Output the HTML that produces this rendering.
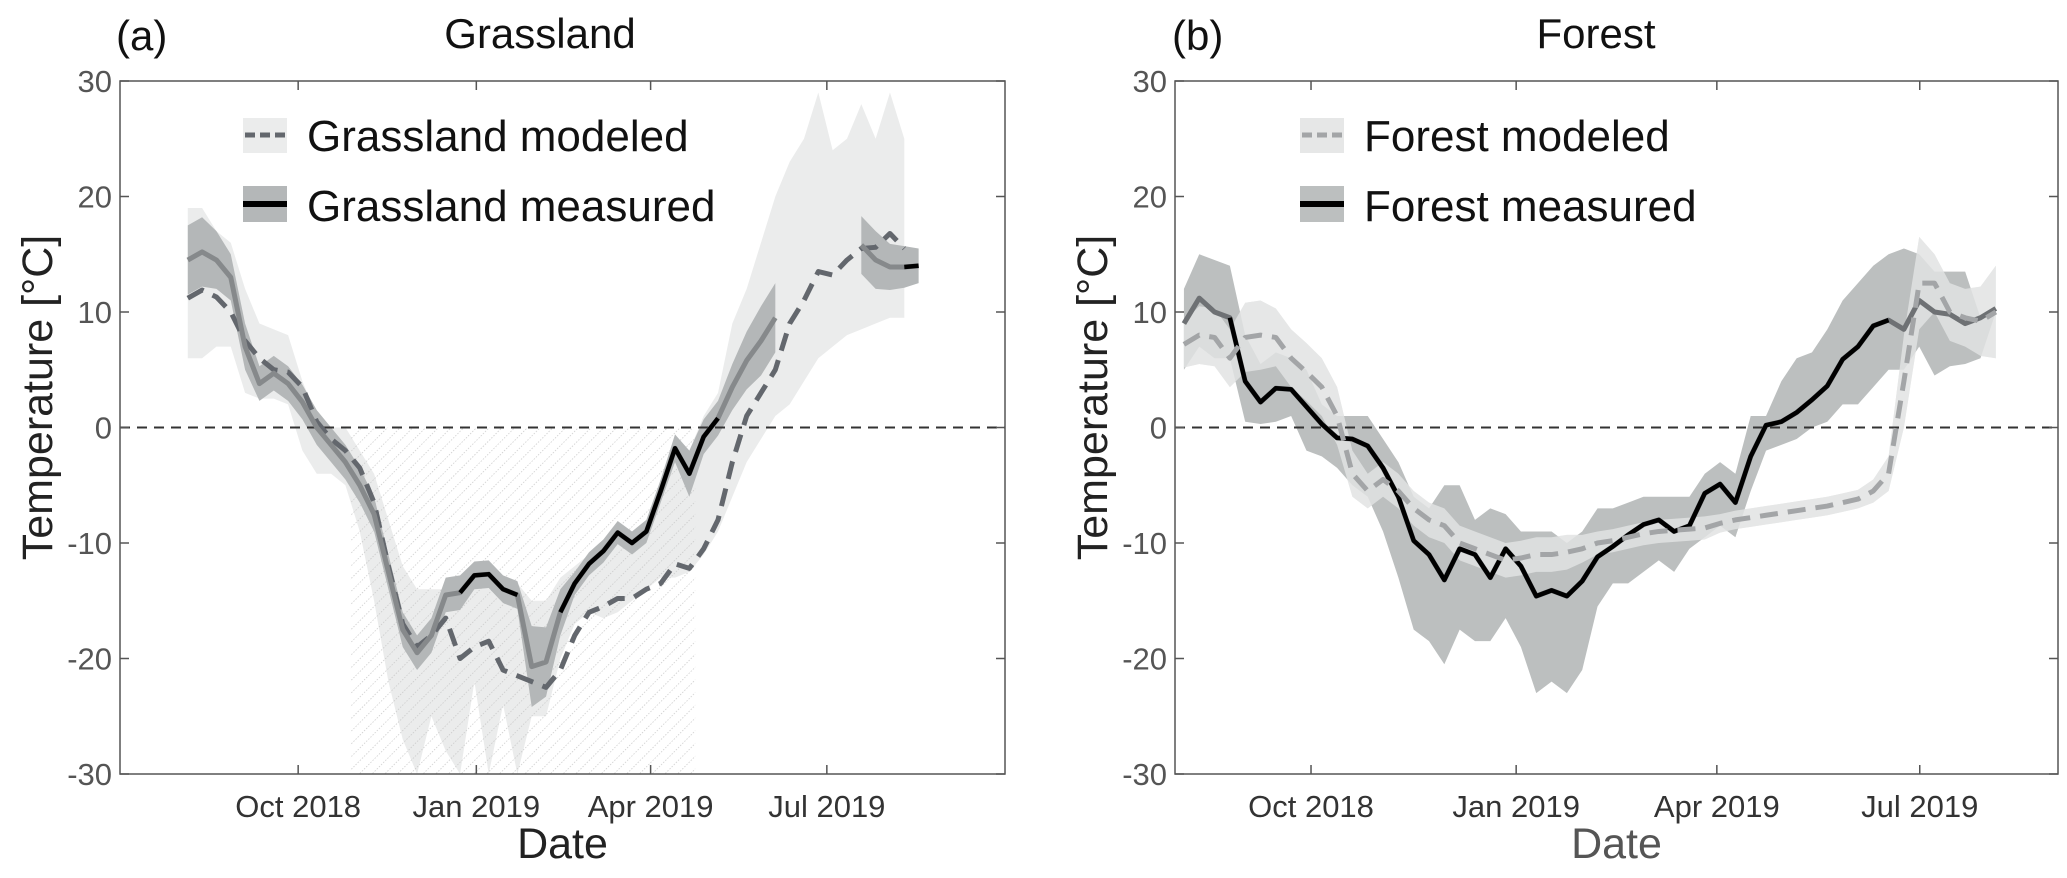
<!DOCTYPE html>
<html><head><meta charset="utf-8">
<style>
html,body{margin:0;padding:0;background:#fff;}
svg{display:block;font-family:"Liberation Sans",sans-serif;}
</style></head>
<body>
<svg id="fig" width="2067" height="878" viewBox="0 0 2067 878">
<defs>
<pattern id="hatch" patternUnits="userSpaceOnUse" width="9" height="9" patternTransform="rotate(45)">
<line x1="0" y1="0" x2="0" y2="9" stroke="#c4c4c4" stroke-width="1.3" stroke-dasharray="1.5,1.5"/>
</pattern>
</defs>
</svg>
<script>
// ---- shared data ----
const startDate = "2018-08-05"; // series start
const yTicks = [30,20,10,0,-10,-20,-30];
const yTickLabels = ["30","20","10","0","-10","-20","-30"];
const xTickDates = ["2018-10-01","2019-01-01","2019-04-01","2019-07-01"];
const xTickLabels = ["Oct 2018","Jan 2019","Apr 2019","Jul 2019"];

// ---- Grassland ----
const grassStepDays = 7.4;
const grassMeasured = [14.5,15.2,14.5,13,7,3.8,4.7,3.8,2.2,0,-1.5,-3,-5,-7.5,-12.5,-17.5,-19.5,-18,-14.5,-14.3,-12.8,-12.7,-14,-14.5,-20.7,-20.3,-16,-13.5,-11.8,-10.7,-9.1,-10,-9,-5.5,-1.8,-4,-0.8,0.8,3.5,5.8,7.5,9.5,null,null,null,null,null,15.8,14.5,13.9,13.9,14];
const grassMeasuredBlack = [0,0,0,0,0,0,0,0,0,0,0,0,0,0,0,0,0,0,0,1,1,1,1,1,0,0,1,1,1,1,1,1,1,1,1,1,1,1,0,0,0,0,0,0,0,0,0,0,0,0,1,1];
const grassMeasuredSpread = [3,3,2.5,2,2,1.5,1.5,1.5,1.5,1.5,1.5,1.5,1.5,1.5,1.5,1.5,1.5,1.5,1.5,1.5,1.2,1.2,1.2,1.2,3.5,3,2,1,1,1,1,1,1,1,1.2,2,1.5,1.5,2,2.5,3,3,0,0,0,0,0,2.5,2.5,2,1.8,1.5];
const grassModeled = [11.2,11.9,11.3,10,7.5,6,5,4.8,3.5,0.5,-1,-2,-3.5,-6.5,-12,-17,-19,-18,-16.5,-20,-19,-18.5,-21,-21.5,-22,-22.5,-21,-18,-16,-15.5,-14.8,-14.8,-14,-13.5,-11.8,-12.2,-10.5,-8,-3,1,3,5,9,11,13.5,13.2,14.5,15.5,15.6,16.8,15.5];
const grassModeledHi = [19,19,17,16,12,9,8.5,8,4,1,0,0,-2,-4,-8,-12,-14,-14,-14,-14,-13,-13,-13.5,-13.5,-15,-15,-13,-12,-11,-10,-9,-9,-8,-5,-1,-2,1,3,9,12,16,20,23,25,29,24,25,28,25,29,25,24];
const grassModeledLo = [6,6,7,7,3,2.5,2.5,2,-2,-4,-4,-5,-9,-15,-22,-27,-30,-25,-28,-30,-22,-30,-24,-30,-25,-25,-20,-17,-16,-16.5,-16,-15,-14,-13,-13,-12.5,-11,-9,-6,-3,-1,1,2,4,6,7,8,8.5,9,9.5,9.5,9.5];
const grassFrozenStart = "2018-10-28";
const grassFrozenEnd = "2019-04-24";

// ---- Forest ----
const forestStepDays = 6.87;
const forestMeasured = [9,11.2,10,9.5,4,2.2,3.4,3.3,1.8,0.3,-0.9,-1,-1.6,-3.5,-6,-9.8,-11,-13.2,-10.5,-11,-13,-10.5,-12,-14.6,-14.1,-14.6,-13.3,-11.2,-10.3,-9.3,-8.4,-8,-9,-8.5,-5.7,-4.9,-6.5,-2.5,0.2,0.5,1.3,2.4,3.6,5.9,7,8.8,9.3,8.5,11,10,9.8,9,9.5,10.3];
const forestMeasuredBlack = [1,0,0,1,1,1,1,1,1,1,1,1,1,1,1,1,1,1,1,1,1,1,1,1,1,1,1,1,1,1,1,1,1,1,1,1,1,1,1,1,1,1,1,1,1,1,1,0,0,0,0,0,0,0];
const forestMeasuredHi = [12,15,14.5,14,8,5.5,6.5,6,5,2,1,1,1,-1,-3,-6,-7,-5,-5,-8,-7,-7.5,-9,-9,-9,-10,-9,-7,-7,-6.5,-6,-6,-6,-6,-4,-3,-4,1,1,4,6,6.5,8.5,11,12.5,14,15,15.5,15,13.5,13.5,13.5,9.5,10];
const forestMeasuredLo = [5,7,6,6,0.5,0.3,0.5,1,-2,-2.5,-3.5,-5,-6,-9,-13,-17.5,-18.5,-20.5,-17.5,-18.5,-18.5,-16.5,-19,-23,-22,-23,-21,-15.5,-13.5,-13.5,-12.5,-11.5,-12.5,-10.5,-9.5,-8.5,-9.5,-5.5,-2,-1.5,-1,0,0.5,2,2,3.5,5,5,7,4.5,5.3,5.5,6,10];
const forestModeled = [7.2,8,7.8,6,7.8,8,7.8,6,4.8,3.5,1,-4,-5.5,-4.5,-5.5,-7,-8,-8.5,-10,-10.5,-11,-11.5,-11.3,-11,-11,-10.8,-10.5,-10,-9.8,-9.5,-9.2,-9,-8.9,-8.8,-8.7,-8.3,-8,-7.8,-7.6,-7.4,-7.2,-7,-6.8,-6.5,-6.2,-5.5,-4,4,12.5,12.5,10,9.5,9.2,10];
const forestModeledSpread = [2,2.5,2.5,2.5,3,3,2.5,2.5,2.5,2.5,2.5,2,1.5,1.5,1.5,1.5,1.5,1.5,1.5,1.5,1.5,1.5,1.5,1.5,1.5,1.5,1.2,1,1,1,1,1,1,1,1,0.8,0.8,0.8,0.8,0.8,0.8,0.8,0.8,0.8,0.8,1,1.5,4,4,2.5,2.5,2.5,3,4];

const NS = "http://www.w3.org/2000/svg";
const svg = document.getElementById("fig");
function mk(tag, attrs, parent){ const e=document.createElementNS(NS,tag); for(const k in attrs) e.setAttribute(k,attrs[k]); (parent||svg).appendChild(e); return e; }
function dayNum(s){ return Date.parse(s+"T00:00:00Z")/86400000; }

const yTop=81, yBot=774;
function yS(v){ return yTop + (30 - v)*(yBot-yTop)/60; }

function drawPanel(cfg){
  const g = mk("g",{});
  
  
  const d0=dayNum(cfg.domain[0]), d1=dayNum(cfg.domain[1]);
  const xS = d => cfg.left + (d-d0)*(cfg.right-cfg.left)/(d1-d0);
  const weekDate = i => dayNum(startDate) + cfg.step*i;
  function bandPaths(lo, hi, n){
    const paths=[]; let top=[], bot=[];
    const flush=()=>{ if(top.length>1) paths.push("M"+top.map(p=>p.join(",")).join("L")+"L"+bot.reverse().map(p=>p.join(",")).join("L")+"Z"); top=[]; bot=[]; };
    for(let i=0;i<n;i++){
      if(lo[i]==null||hi[i]==null){ flush(); continue; }
      top.push([xS(weekDate(i)), yS(Math.min(30,hi[i]))]);
      bot.push([xS(weekDate(i)), yS(Math.max(-30,lo[i]))]);
    }
    flush();
    return paths.join(" ");
  }
  function segs(vals, flags){
    let out=[], cur=[];
    for(let i=0;i<vals.length;i++){
      const ok = vals[i]!=null && (!flags || flags[i]);
      if(ok){ cur.push([xS(weekDate(i)), yS(vals[i])]); }
      else { if(cur.length>1) out.push(cur); cur=[]; }
    }
    if(cur.length>1) out.push(cur);
    return out;
  }
  function polyl(pts, attrs){ return mk("polyline",Object.assign({points:pts.map(q=>q.join(",")).join(" "),fill:"none","stroke-linejoin":"round"},attrs),g); }

  const mb = mk("path",{d:bandPaths(cfg.modLo,cfg.modHi,cfg.modeled.length),fill:cfg.modBandColor},g);
  
  
  if(cfg.hatch){
    const hx0=xS(dayNum(cfg.hatch[0])), hx1=xS(dayNum(cfg.hatch[1]));
    const h=mk("rect",{x:hx0,y:yS(0),width:hx1-hx0,height:yS(-30)-yS(0),fill:"url(#hatch)"},g);
    
    
  }
  const meb = mk("path",{d:bandPaths(cfg.measLo,cfg.measHi,cfg.measured.length),fill:cfg.measBandColor},g);
  
  
  if(cfg.modelOnTop){
    const mb2 = mk("path",{d:bandPaths(cfg.modLo,cfg.modHi,cfg.modeled.length),fill:cfg.modBandColor,opacity:0.75},g);
    
    
  }
  const z=mk("line",{x1:cfg.left,x2:cfg.right,y1:yS(0),y2:yS(0),stroke:"#333","stroke-width":2,"stroke-dasharray":"10,7"},g);
  
  
  const drawMeasured=()=>{
    segs(cfg.measured).forEach(s=>{ const p=polyl(s,{stroke:cfg.measGray,"stroke-width":5});   });
    segs(cfg.measured,cfg.measBlack).forEach(s=>{ const p=polyl(s,{stroke:"#000","stroke-width":4.5});   });
  };
  const drawModeled=()=>{
    segs(cfg.modeled).forEach(s=>{ const p=polyl(s,{stroke:cfg.modColor,"stroke-width":5,"stroke-dasharray":"18,10"});   });
  };
  if(cfg.modelOnTop){ drawMeasured(); drawModeled(); } else { drawModeled(); drawMeasured(); }

  const box=mk("rect",{x:cfg.left,y:yTop,width:cfg.right-cfg.left,height:yBot-yTop,fill:"none",stroke:"#555","stroke-width":1.5},g);
  
  
  yTicks.forEach((v,i)=>{
    const y=yS(v);
    mk("line",{x1:cfg.left,x2:cfg.left+9,y1:y,y2:y,stroke:"#555","stroke-width":1.5},g);
    mk("line",{x1:cfg.right,x2:cfg.right-9,y1:y,y2:y,stroke:"#555","stroke-width":1.5},g);
    const t=mk("text",{x:cfg.left-8,y:y+11,"text-anchor":"end","font-size":31,fill:"#555"},g);
    t.textContent=yTickLabels[i];
    
    
  });
  xTickDates.forEach((d,i)=>{
    const x=xS(dayNum(d));
    mk("line",{x1:x,x2:x,y1:yBot,y2:yBot-9,stroke:"#555","stroke-width":1.5},g);
    mk("line",{x1:x,x2:x,y1:yTop,y2:yTop+9,stroke:"#555","stroke-width":1.5},g);
    const t=mk("text",{x:x,y:817,"text-anchor":"middle","font-size":31,fill:"#333"},g);
    t.textContent=xTickLabels[i];
    
    
  });
  const xl=mk("text",{x:(cfg.left+cfg.right)/2,y:858,"text-anchor":"middle","font-size":43,fill:cfg.dateColor},g);
  xl.textContent="Date";
  
  
  const yl=mk("text",{x:0,y:0,"text-anchor":"middle","font-size":43,fill:"#222",transform:`translate(${cfg.left-68},${yS(0)-30}) rotate(-90)`},g);
  yl.textContent="Temperature [°C]";
  
  
  const tt=mk("text",{x:cfg.titleX,y:48,"text-anchor":"middle","font-size":42,fill:"#111"},g);
  tt.textContent=cfg.title;
  
  
  const lb=mk("text",{x:cfg.labelX,y:50,"font-size":42,fill:"#111"},g);
  lb.textContent=cfg.label;
  
  

  const L=cfg.legendX;
  const lg=mk("g",{},g);
  
  
  const e1=mk("g",{},lg);
  
  
  mk("rect",{x:L,y:118,width:44,height:35,fill:cfg.modBandColor},e1);
  mk("line",{x1:L+2,x2:L+42,y1:135,y2:135,stroke:cfg.modColor,"stroke-width":5,"stroke-dasharray":"10,5"},e1);
  const t1=mk("text",{x:L+64,y:151,"font-size":44,fill:"#111"},e1); t1.textContent=cfg.title+" modeled";
  const e2=mk("g",{},lg);
  
  
  mk("rect",{x:L,y:186,width:44,height:36,fill:cfg.measBandColor},e2);
  mk("line",{x1:L,x2:L+44,y1:204,y2:204,stroke:"#000","stroke-width":6},e2);
  const t2=mk("text",{x:L+64,y:221,"font-size":44,fill:"#111"},e2); t2.textContent=cfg.title+" measured";
}

drawPanel({name:"grassland",title:"Grassland",label:"(a)",left:120,right:1005,domain:["2018-07-01","2019-10-01"],step:grassStepDays,
  measured:grassMeasured,measBlack:grassMeasuredBlack,
  measLo:grassMeasured.map((v,i)=>v==null?null:v-grassMeasuredSpread[i]),
  measHi:grassMeasured.map((v,i)=>v==null?null:v+grassMeasuredSpread[i]),
  modeled:grassModeled,modLo:grassModeledLo,modHi:grassModeledHi,
  modBandColor:"#ebecec",measBandColor:"#b4b7b8",modColor:"#63676d",measGray:"#86898b",
  hatch:[grassFrozenStart,grassFrozenEnd],titleX:540,labelX:116,legendX:243,dateColor:"#222",modelOnTop:false});

drawPanel({name:"forest",title:"Forest",label:"(b)",left:1175,right:2058,domain:["2018-08-01","2019-09-01"],step:forestStepDays,
  measured:forestMeasured,measBlack:forestMeasuredBlack,measLo:forestMeasuredLo,measHi:forestMeasuredHi,
  modeled:forestModeled,
  modLo:forestModeled.map((v,i)=>v-forestModeledSpread[i]),
  modHi:forestModeled.map((v,i)=>v+forestModeledSpread[i]),
  modBandColor:"#e6e7e7",measBandColor:"#bcbfbf",modColor:"#a3a5a7",measGray:"#6e7174",
  hatch:null,titleX:1596,labelX:1172,legendX:1300,dateColor:"#555",modelOnTop:true});
</script>
</body></html>
